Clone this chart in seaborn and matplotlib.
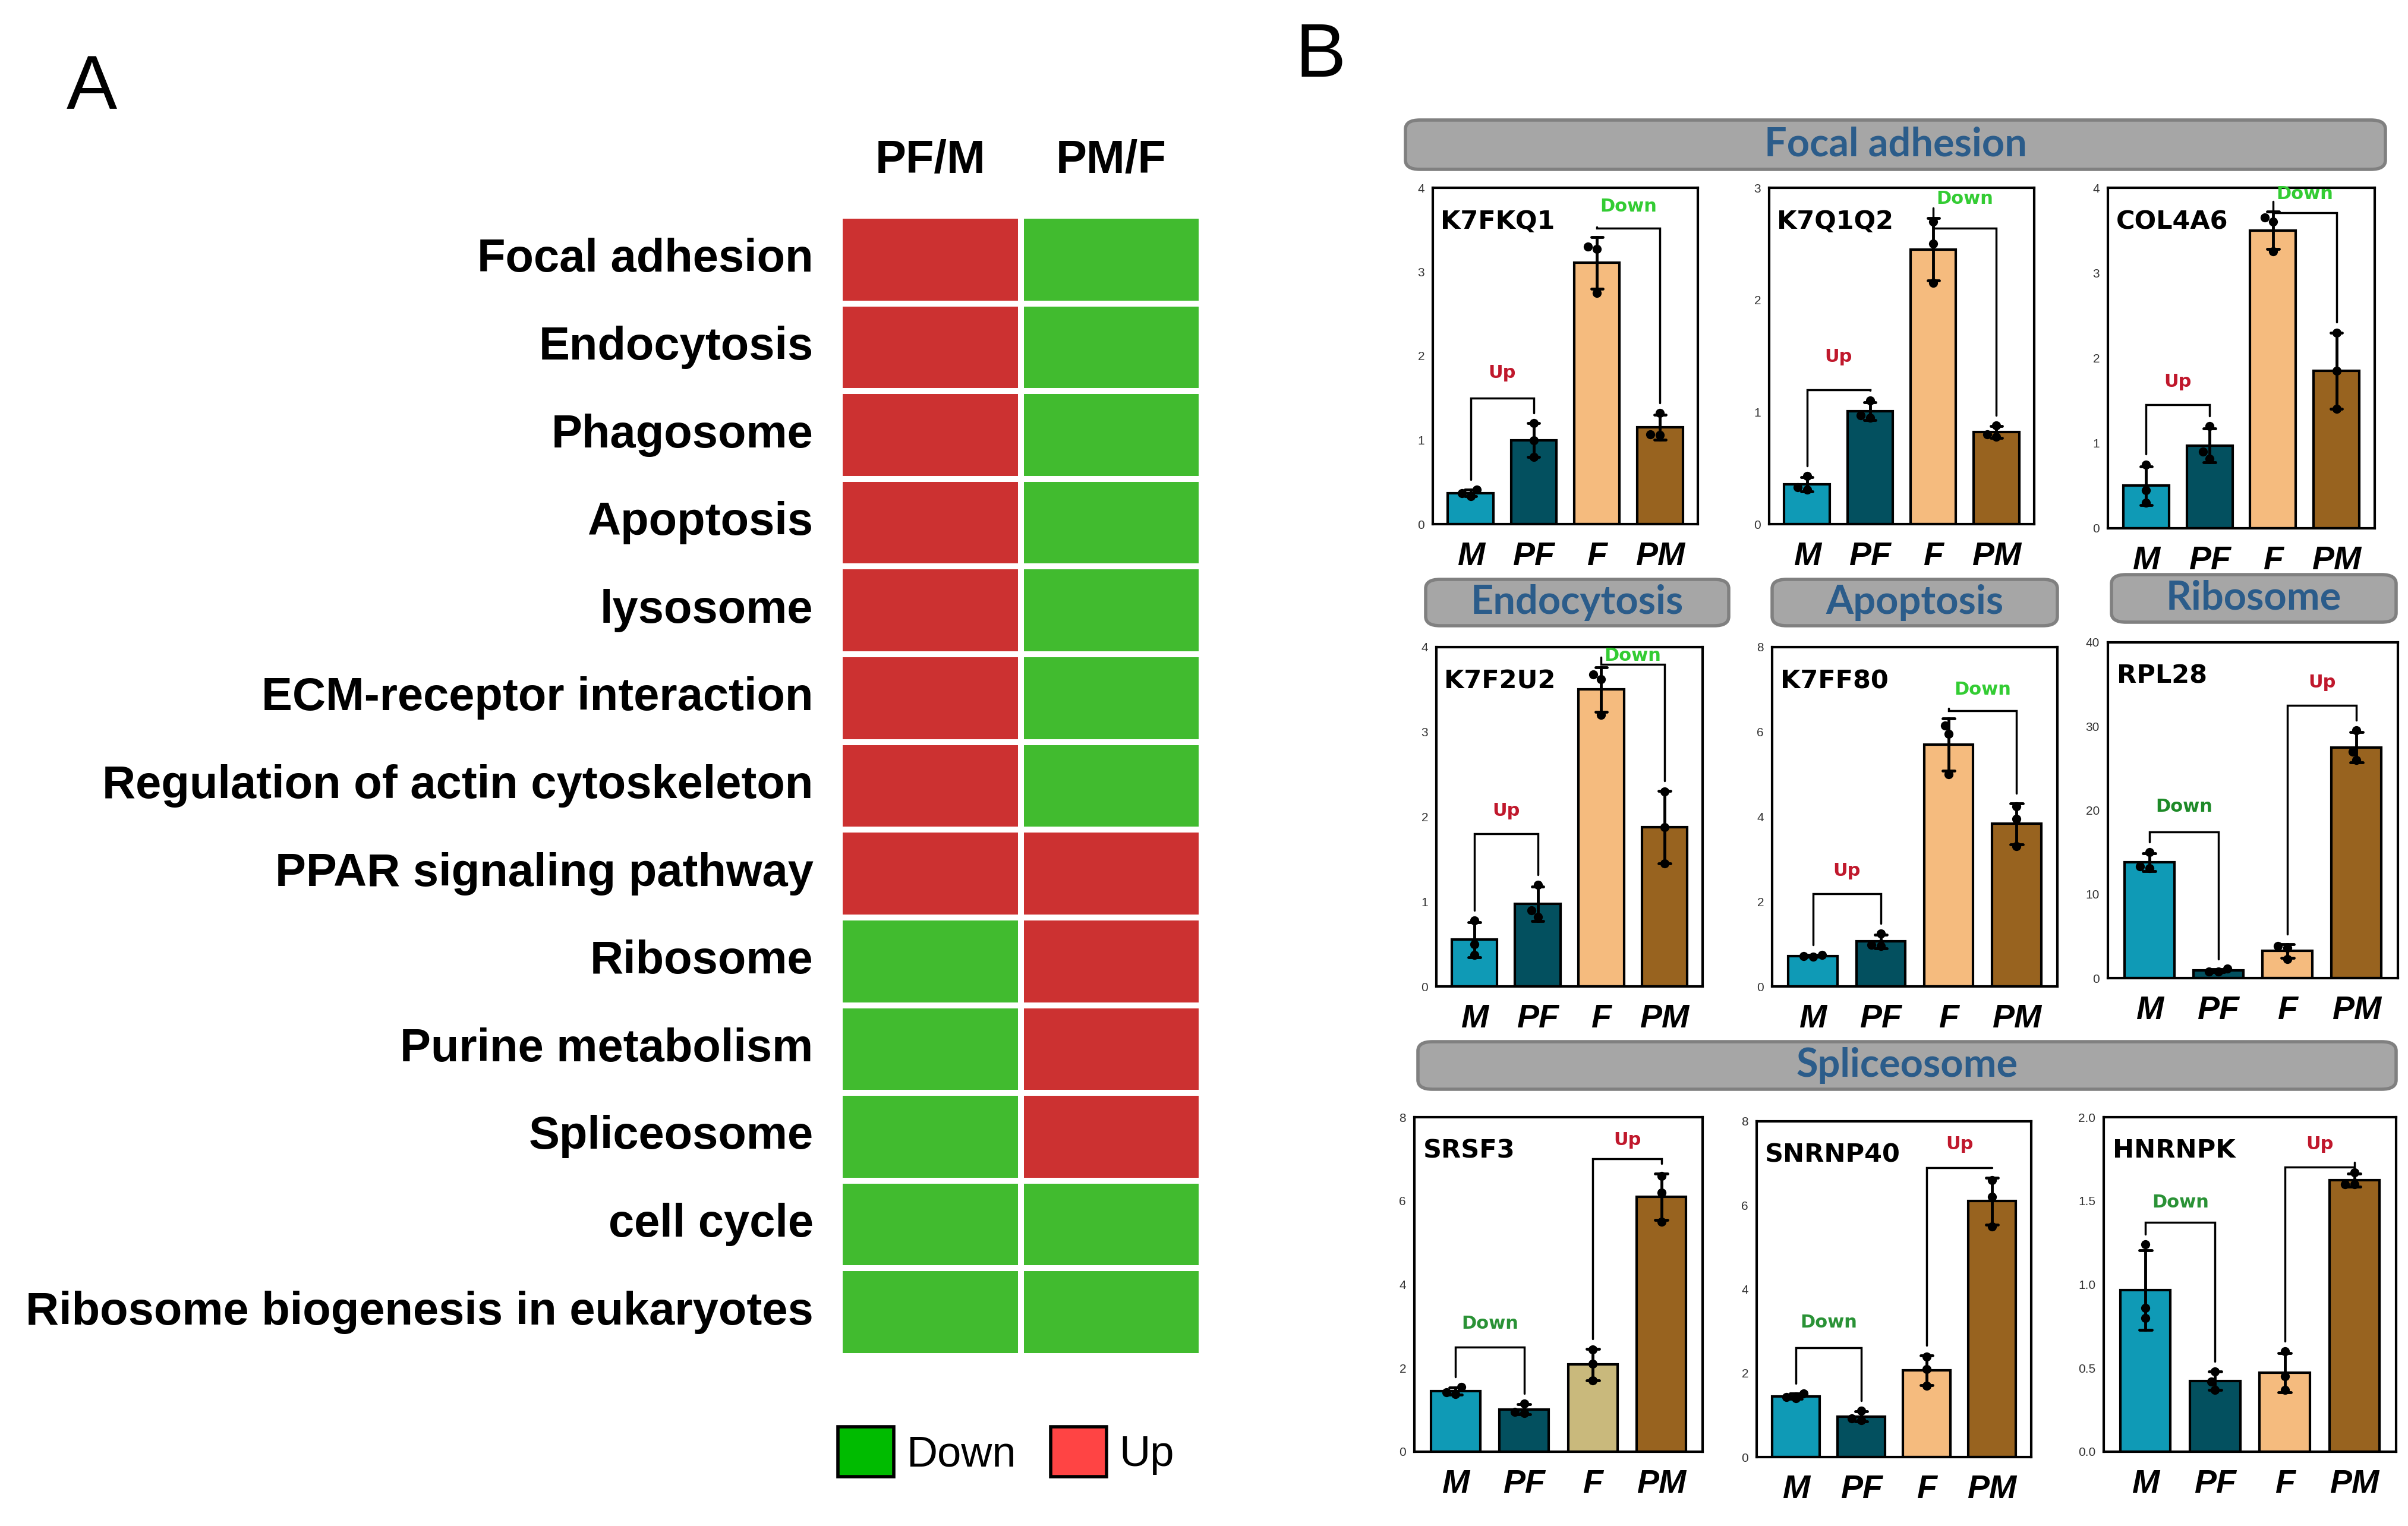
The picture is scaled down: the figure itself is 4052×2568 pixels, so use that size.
import numpy as np
import pandas as pd
import matplotlib
matplotlib.use('Agg')
import matplotlib.pyplot as plt
import seaborn as sns
from matplotlib.colors import ListedColormap
from matplotlib.patches import FancyBboxPatch, Patch

sns.set_style('white')
plt.rcParams['font.family'] = ['Liberation Sans', 'DejaVu Sans']
plt.rcParams['text.color'] = 'black'
plt.rcParams['xtick.color'] = 'black'
plt.rcParams['ytick.color'] = 'black'

W, H = 4052, 2568

# ---- panel A data: 1 = up, 0 = down
pathways = ['Focal adhesion', 'Endocytosis', 'Phagosome', 'Apoptosis', 'lysosome',
            'ECM-receptor interaction', 'Regulation of actin cytoskeleton',
            'PPAR signaling pathway', 'Ribosome', 'Purine metabolism', 'Spliceosome',
            'cell cycle', 'Ribosome biogenesis in eukaryotes']
pf_m = [1, 1, 1, 1, 1, 1, 1, 1, 0, 0, 0, 0, 0]
pm_f = [0, 0, 0, 0, 0, 0, 0, 1, 1, 1, 1, 0, 0]
comparisons = ['PF/M', 'PM/F']

# ---- panel B data: replicate values per group (M, PF, F, PM)
groups = ['M', 'PF', 'F', 'PM']
k7fkq1 = [[0.33, 0.37, 0.41], [0.80, 1.00, 1.20], [2.75, 3.27, 3.30], [1.32, 1.07, 1.06]]
k7q1q2 = [[0.43, 0.33, 0.31], [1.10, 0.97, 0.95], [2.70, 2.50, 2.15], [0.88, 0.80, 0.78]]
col4a6 = [[0.75, 0.45, 0.30], [1.20, 0.90, 0.82], [3.65, 3.60, 3.25], [2.30, 1.85, 1.40]]
k7f2u2 = [[0.78, 0.50, 0.37], [1.20, 0.90, 0.82], [3.68, 3.62, 3.20], [2.30, 1.88, 1.45]]
k7ff80 = [[0.74, 0.72, 0.70], [1.25, 0.98, 0.95], [6.15, 5.95, 5.00], [4.25, 3.95, 3.30]]
rpl28 = [[15.0, 13.3, 13.1], [1.1, 0.8, 0.8], [3.8, 3.6, 2.3], [29.5, 27.0, 26.0]]
srsf3 = [[1.55, 1.42, 1.38], [1.15, 0.95, 0.93], [2.45, 2.10, 1.70], [6.60, 6.20, 5.50]]
snrnp40 = [[1.52, 1.43, 1.40], [1.10, 0.92, 0.88], [2.40, 2.10, 1.70], [6.60, 6.20, 5.50]]
hnrnpk = [[1.24, 0.86, 0.80], [0.48, 0.42, 0.37], [0.60, 0.45, 0.37], [1.67, 1.60, 1.60]]

# y axis limits / tick steps
ymax = [4, 3, 4, 4, 8, 40, 8, 8, 2.0]
ystep = [1, 1, 1, 1, 2, 10, 2, 2, 0.5]

# brackets: (group1, group2, bracket y, text y, label)
k7fkq1_br = [('M', 'PF', 1.50, 1.80, 'Up'), ('F', 'PM', 3.52, 3.78, 'Down')]
k7q1q2_br = [('M', 'PF', 1.20, 1.49, 'Up'), ('F', 'PM', 2.64, 2.90, 'Down')]
col4a6_br = [('M', 'PF', 1.45, 1.72, 'Up'), ('F', 'PM', 3.71, 3.93, 'Down')]
k7f2u2_br = [('M', 'PF', 1.80, 2.07, 'Up'), ('F', 'PM', 3.80, 3.90, 'Down')]
k7ff80_br = [('M', 'PF', 2.18, 2.73, 'Up'), ('F', 'PM', 6.50, 7.00, 'Down')]
rpl28_br = [('M', 'PF', 17.4, 20.4, 'Down'), ('F', 'PM', 32.5, 35.2, 'Up')]
srsf3_br = [('M', 'PF', 2.50, 3.06, 'Down'), ('F', 'PM', 7.00, 7.45, 'Up')]
snrnp40_br = [('M', 'PF', 2.60, 3.20, 'Down'), ('F', 'PM', 6.90, 7.45, 'Up')]
hnrnpk_br = [('M', 'PF', 1.37, 1.49, 'Down'), ('F', 'PM', 1.70, 1.84, 'Up')]

bar_colors = ['#0f9ab6', '#03505f', '#f5bb7e', '#98631f']
up_color = '#c0182c'
down_bright = '#33cc33'
down_dark = '#2a9236'

# ---- figure
fig = plt.figure(figsize=(W / 100, H / 100), dpi=100)


def rect(l, t, r, b):
    return [l / W, 1 - b / H, (r - l) / W, (b - t) / H]


# ================= panel A =================
hm = pd.DataFrame({'PF/M': pf_m, 'PM/F': pm_f}, index=pathways)[comparisons]
axA = fig.add_axes(rect(1413, 363, 2022, 2282))
sns.heatmap(hm, ax=axA, cmap=ListedColormap(['#41bb2f', '#cc3131']), vmin=0, vmax=1,
            cbar=False, linewidths=6, linecolor='white')
axA.xaxis.tick_top()
axA.set_xticklabels(comparisons, rotation=0, fontsize=56, fontweight='bold')
axA.set_yticklabels(pathways, rotation=0, fontsize=56, fontweight='bold')
axA.tick_params(axis='x', length=0, pad=40)
axA.tick_params(axis='y', length=0, pad=32)
axA.set_xlabel('')
axA.set_ylabel('')

handles = [Patch(facecolor='#00bb00', edgecolor='black', linewidth=4),
           Patch(facecolor='#ff4444', edgecolor='black', linewidth=4)]
fig.legend(handles, ['Down', 'Up'], loc='center left',
           bbox_to_anchor=(1410 / W, 1 - 2443 / H), ncol=2, frameon=False,
           fontsize=52, handlelength=1.3, handleheight=1.4, handletextpad=0.3,
           columnspacing=0.8, borderpad=0, borderaxespad=0)

fig.text(112 / W, 1 - 150 / H, 'A', fontsize=92, ha='left', va='center')
fig.text(2180 / W, 1 - 96 / H, 'B', fontsize=92, ha='left', va='center')

# ================= panel B =================
banners = [('Focal adhesion', (2365, 202, 4014, 285)),
           ('Endocytosis', (2399, 975, 2909, 1053)),
           ('Apoptosis', (2982, 975, 3462, 1053)),
           ('Ribosome', (3553, 967, 4032, 1047)),
           ('Spliceosome', (2386, 1753, 4032, 1833))]
for name, (l, t, r, b) in banners:
    x0, y0, w, h = rect(l, t, r, b)
    fig.add_artist(FancyBboxPatch((x0, y0), w, h, transform=fig.transFigure,
                                  boxstyle='round,pad=0,rounding_size=0.006',
                                  facecolor='#a6a6a6', edgecolor='#808080', linewidth=4))
    fig.text(x0 + w / 2, y0 + h / 2, name, ha='center', va='center', fontsize=48,
             fontweight='bold', color='#2b5c8a', family=['Lato', 'DejaVu Sans'])

panels = [
    ('K7FKQ1', k7fkq1, k7fkq1_br, (2411, 316, 2857, 882), down_bright, None),
    ('K7Q1Q2', k7q1q2, k7q1q2_br, (2977, 316, 3423, 882), down_bright, None),
    ('COL4A6', col4a6, col4a6_br, (3547, 316, 3996, 889), down_bright, None),
    ('K7F2U2', k7f2u2, k7f2u2_br, (2417, 1089, 2865, 1660), down_bright, None),
    ('K7FF80', k7ff80, k7ff80_br, (2982, 1089, 3462, 1660), down_bright, None),
    ('RPL28', rpl28, rpl28_br, (3547, 1081, 4035, 1646), '#1e8a28', None),
    ('SRSF3', srsf3, srsf3_br, (2380, 1880, 2865, 2443), down_dark, '#c9b97c'),
    ('SNRNP40', snrnp40, snrnp40_br, (2956, 1887, 3418, 2452), down_dark, None),
    ('HNRNPK', hnrnpk, hnrnpk_br, (3540, 1880, 4032, 2443), down_dark, None),
]

for i, (gene, vals, brs, box, dcol, fcol) in enumerate(panels):
    ax = fig.add_axes(rect(*box))
    df = pd.DataFrame({'group': np.repeat(groups, 3), 'value': np.concatenate(vals)})
    pal = dict(zip(groups, bar_colors))
    if fcol:
        pal['F'] = fcol
    sns.barplot(data=df, x='group', y='value', hue='group', order=groups, palette=pal,
                saturation=1, errorbar='sd', capsize=0.18, width=0.72, edgecolor='black',
                linewidth=3, err_kws={'color': 'black', 'linewidth': 3.5}, legend=False, ax=ax)
    sns.swarmplot(data=df, x='group', y='value', order=groups, color='black', size=11, ax=ax)

    ym = ymax[i]
    ax.set_ylim(0, ym)
    ax.set_xlim(-0.6, 3.6)
    ticks = np.arange(0, ym + ystep[i] / 2, ystep[i])
    ax.set_yticks(ticks)
    if ystep[i] < 1:
        ax.set_yticklabels([f'{t:.1f}' for t in ticks])
    else:
        ax.set_yticklabels([f'{int(t)}' for t in ticks])
    ax.set_xticks(range(4))
    ax.set_xticklabels(groups, fontsize=40, fontweight='bold', fontstyle='italic')
    ax.tick_params(axis='y', direction='inout', length=16, width=3, labelsize=15,
                   labelcolor='#333333', pad=2)
    ax.tick_params(axis='x', direction='out', length=17, width=3, pad=4)
    ax.set_xlabel('')
    ax.set_ylabel('')
    for sp in ax.spines.values():
        sp.set_visible(True)
        sp.set_color('black')
        sp.set_linewidth(3)

    ax.text(0.03, 0.9, gene, transform=ax.transAxes, fontsize=31, fontweight='bold',
            ha='left', va='center', family=['DejaVu Sans'])

    for g1, g2, yb, yt, lab in brs:
        x1, x2 = groups.index(g1), groups.index(g2)
        v1, v2 = np.array(vals[x1]), np.array(vals[x2])
        b1 = max(v1.max(), v1.mean() + v1.std(ddof=1)) + 0.03 * ym
        b2 = max(v2.max(), v2.mean() + v2.std(ddof=1)) + 0.03 * ym
        ax.plot([x1, x1, x2, x2], [b1, yb, yb, b2], color='black', lw=2.5,
                solid_joinstyle='miter', clip_on=False)
        ax.text((x1 + x2) / 2, yt, lab, ha='center', va='center', fontsize=22,
                fontweight='bold', color=up_color if lab == 'Up' else dcol,
                family=['DejaVu Sans'], clip_on=False)

fig.savefig('out.png', dpi=100, facecolor='white')
